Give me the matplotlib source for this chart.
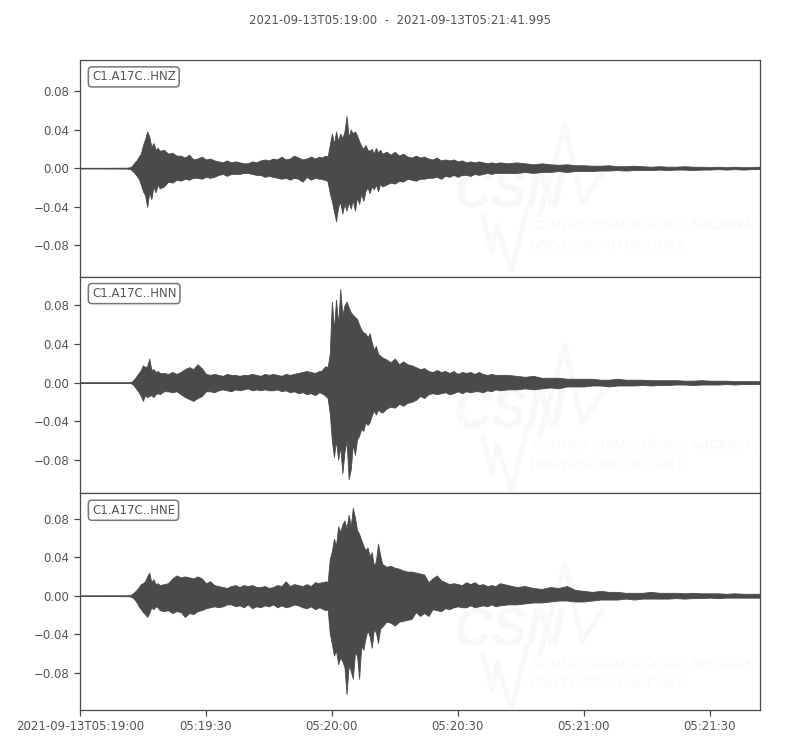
import matplotlib
matplotlib.use("Agg")
import matplotlib.pyplot as plt
import numpy as np
from matplotlib.transforms import IdentityTransform

# --- data ---
# seconds after 05:19:00, amplitudes are the envelope in 1e-3 units (lower = size below zero)
time_s = [0, 6, 11, 12,
          12.5, 13, 13.5, 14, 14.5, 15, 15.5, 16, 16.5, 17, 17.5, 18, 18.5, 19,
          20, 21, 22, 23, 24, 25, 26, 27, 28, 29, 30, 31, 32, 33, 34, 35, 36, 37, 38,
          39, 40, 41, 42, 43, 44, 45, 46, 47, 48, 49, 50, 51, 52, 53, 54, 55, 56, 57,
          57.5, 58, 58.5, 59, 59.5, 60, 60.5, 61, 61.5, 62, 62.5, 63, 63.5, 64, 64.5,
          65, 65.5, 66, 66.5, 67, 67.5, 68, 68.5, 69, 69.5, 70, 70.5, 71, 71.5, 72,
          73, 74, 75, 76, 77, 78, 79, 80, 81, 82, 83, 84, 85, 86, 87, 88, 89, 90, 91,
          92, 93, 94, 95, 96, 97, 98, 99, 100,
          102, 104, 106, 108, 110, 112, 114, 116, 118, 120, 122, 124, 126, 128, 130,
          132, 134, 136, 138, 140, 142, 144, 146, 148, 150, 152, 154, 156, 158, 160,
          161.995]

hnz_upper = [.4, .4, .5, 1,
             3, 6, 8, 12, 15, 24, 30, 38, 33, 22, 26, 19, 21, 18,
             19, 15, 16, 13, 13, 11, 14, 9, 10, 12, 9, 10, 8, 7, 6, 8, 6, 7, 6, 5, 5, 7, 6, 8, 9, 8, 10, 9, 12, 9, 10, 13, 11, 9, 10, 12, 10, 12,
             11, 12, 13, 12, 24, 36, 25, 38, 28, 36, 31, 38, 54, 32, 40, 36, 38, 34, 28, 23, 20, 24, 19, 18, 20, 15, 21, 16, 19, 15,
             17, 14, 17, 13, 15, 12, 11, 13, 11, 12, 10, 9, 11, 8, 9, 8, 9, 7, 8, 6, 7, 6, 7, 6, 5, 6, 5, 6,
             5, 6, 5, 4, 5, 4, 3.5, 4, 3, 3, 2.5, 2.5, 3, 2, 2, 2.5, 2, 1.5, 2, 1.5, 1.5, 2, 1.5, 1.5, 1, 1.5, 1, 1.5, 1, 1, 1.5]
hnz_lower = [.4, .4, .5, 1,
             3, 5, 8, 11, 17, 24, 28, 40, 25, 32, 19, 25, 17, 21,
             19, 14, 15, 12, 13, 11, 12, 10, 10, 11, 9, 10, 9, 7, 6, 8, 6, 6, 6, 5, 5, 6, 7, 7, 9, 8, 9, 10, 11, 10, 12, 10, 11, 14, 9, 12, 10, 11,
             11, 12, 12, 14, 26, 34, 45, 55, 40, 35, 47, 37, 44, 35, 42, 33, 44, 30, 37, 26, 34, 24, 20, 26, 19, 22, 17, 24, 16, 19,
             17, 15, 16, 13, 14, 11, 12, 13, 11, 11, 10, 10, 9, 11, 8, 9, 7, 9, 7, 7, 8, 6, 7, 6, 5, 6, 5, 5,
             5, 5, 4, 5, 4, 4, 3, 4, 3, 3, 3, 2.5, 2.5, 2, 2.5, 2, 2, 2, 1.5, 2, 1.5, 1.5, 2, 1.5, 1.5, 1, 1.5, 1, 1.5, 1, 1]

hnn_upper = [.4, .4, .4, .5,
             1.5, 4, 7, 10, 13, 18, 16, 17, 25, 13, 14, 11, 12, 10,
             10, 9, 11, 9, 11, 14, 16, 14, 19, 15, 9, 8, 9, 8, 7, 9, 8, 8, 7, 8, 8, 9, 8, 7, 9, 8, 9, 8, 7, 9, 8, 9, 10, 11, 12, 11, 10, 12,
             12, 15, 17, 16, 30, 84, 55, 86, 60, 97, 70, 80, 84, 78, 73, 70, 68, 66, 60, 55, 52, 51, 47, 51, 42, 34, 38, 30, 28, 26,
             24, 21, 25, 19, 22, 19, 18, 16, 14, 15, 12, 11, 13, 11, 12, 10, 12, 9, 11, 10, 11, 9, 11, 9, 8, 9, 8, 8,
             8, 7, 6, 7, 5, 5, 5, 4, 4, 4, 4, 3, 3, 4, 3, 3, 3, 2.5, 2.5, 2.5, 2.5, 2, 2, 2.5, 2, 2, 2, 1.5, 1.5, 1.5, 1.5]
hnn_lower = [.4, .4, .4, .5,
             1.5, 4, 7, 10, 14, 19, 13, 15, 14, 13, 15, 12, 11, 12,
             9, 9, 10, 9, 12, 15, 17, 19, 16, 14, 9, 9, 10, 8, 7, 8, 9, 7, 8, 7, 6, 8, 7, 8, 7, 8, 8, 7, 9, 8, 10, 9, 11, 10, 12, 11, 13, 10,
             11, 12, 14, 16, 32, 60, 77, 60, 80, 66, 94, 72, 60, 100, 90, 64, 75, 59, 55, 48, 50, 41, 44, 41, 34, 29, 33, 28, 30, 31,
             27, 25, 26, 22, 24, 21, 20, 18, 14, 16, 12, 11, 12, 11, 10, 12, 11, 9, 11, 9, 10, 9, 9, 10, 8, 9, 7, 8,
             7, 7, 6, 7, 6, 5, 6, 4, 4, 4, 3, 3, 4, 3, 3, 3, 2.5, 3, 2.5, 2.5, 2, 2, 2.5, 2, 2, 2, 1.5, 2, 1.5, 1.5, 1.5]

hne_upper = [.4, .4, .5, .8,
             2, 4, 6, 9, 12, 13, 15, 20, 24, 14, 17, 12, 13, 11,
             12, 13, 18, 21, 19, 20, 19, 18, 20, 18, 13, 15, 11, 10, 9, 8, 10, 11, 9, 11, 10, 11, 9, 9, 10, 8, 9, 11, 10, 15, 10, 12, 11, 10, 12, 10, 14, 13,
             14, 14, 15, 14, 38, 46, 59, 52, 72, 66, 74, 78, 70, 84, 72, 91, 81, 68, 64, 58, 52, 47, 50, 41, 45, 31, 36, 54, 42, 33,
             30, 31, 29, 28, 26, 25, 25, 24, 23, 22, 14, 18, 21, 16, 14, 12, 13, 12, 11, 14, 12, 14, 11, 12, 10, 11, 10, 13,
             11, 9, 10, 8, 7, 9, 8, 10, 6, 5, 4, 5, 4, 4, 3, 3, 3, 4, 3, 3, 3, 2.5, 3, 2.5, 2.5, 2.5, 2, 2.5, 2, 2, 2]
hne_lower = [.4, .4, .5, .8,
             2, 4, 7, 11, 14, 17, 19, 22, 18, 12, 14, 11, 12, 15,
             16, 15, 18, 16, 17, 22, 18, 19, 16, 15, 13, 12, 11, 12, 11, 9, 9, 11, 10, 12, 9, 13, 11, 12, 10, 11, 9, 12, 10, 12, 11, 9, 10, 12, 13, 11, 14, 12,
             13, 14, 15, 14, 39, 50, 62, 57, 71, 64, 68, 74, 102, 72, 78, 86, 59, 62, 86, 52, 56, 44, 36, 42, 54, 35, 38, 49, 34, 32,
             27, 28, 31, 27, 26, 25, 24, 17, 21, 18, 21, 14, 15, 16, 13, 14, 12, 11, 12, 12, 10, 12, 11, 10, 11, 9, 11, 10,
             9, 9, 8, 7, 7, 6, 5, 5, 6, 6, 5, 4, 4, 4, 3, 4, 3, 3, 3, 3, 2.5, 3, 2.5, 2.5, 2, 2.5, 2, 2, 2, 2, 2]

channels = ["C1.A17C..HNZ", "C1.A17C..HNN", "C1.A17C..HNE"]
uppers = [hnz_upper, hnn_upper, hne_upper]
lowers = [hnz_lower, hnn_lower, hne_lower]
y_limits = [(-0.1125, 0.1121), (-0.1148, 0.1098), (-0.1185, 0.1061)]
y_ticks = [-0.08, -0.04, 0.0, 0.04, 0.08]
x_ticks = [0, 30, 60, 90, 120, 150]
x_labels = ["2021-09-13T05:19:00", "05:19:30", "05:20:00", "05:20:30", "05:21:00", "05:21:30"]
title = "2021-09-13T05:19:00  -  2021-09-13T05:21:41.995"

DARK = "#4a4a4a"
TEXT = "#555555"
MARK = "#f8f8f8"
H = 750

# logo drawn in picture pixels
logo_peak_x = [520, 540, 565, 582, 602]
logo_peak_y = [300, 215, 125, 203, 173]
logo_w_x = [483, 492, 497, 505, 512, 527]
logo_w_y = [217, 252, 225, 250, 270, 208]
logo_offsets = [0, 220, 438]


def watermark(ax, dy):
    t = IdentityTransform()
    tr = ax.transAxes
    ax.plot(logo_peak_x[1:], [H - (v + dy) for v in logo_peak_y[1:]], color=MARK, lw=3.5,
            transform=t, zorder=0, clip_on=True)
    ax.plot(logo_w_x, [H - (v + dy) for v in logo_w_y], color=MARK, lw=3.5,
            transform=t, zorder=0, clip_on=True)
    fig = ax.figure
    for s, x, y, size, weight in [("CSN", 453, 208, 38, "bold"),
                                  ("CENTRO SISMOLÓGICO NACIONAL", 532, 229, 9.6, "normal"),
                                  ("UNIVERSIDAD DE CHILE", 530, 249, 9.6, "normal")]:
        ax.text(x, H - (y + dy), s, transform=t, color=MARK, fontsize=size, style="italic",
                weight=weight, family="Liberation Sans", ha="left", va="baseline", zorder=0, clip_on=True)


fig, axes = plt.subplots(3, 1, figsize=(8, 7.5), dpi=100, sharex=True)
fig.subplots_adjust(left=0.1, right=0.95, top=0.92, bottom=0.0533, hspace=0)

t = np.array(time_s)
for ax, name, up, low, lim, off in zip(axes, channels, uppers, lowers, y_limits, logo_offsets):
    watermark(ax, off)
    up = np.array(up) * 0.001
    low = -np.array(low) * 0.001
    ax.fill_between(t, low, up, color=DARK, linewidth=0.6, zorder=2)
    ax.set_ylim(lim)
    ax.set_xlim(0, 161.995)
    ax.set_yticks(y_ticks)
    ax.tick_params(axis="both", colors=DARK, labelcolor=TEXT, labelsize=8.5, length=4, width=0.9)
    for sp in ax.spines.values():
        sp.set_color(DARK)
        sp.set_linewidth(0.9)
    ax.text(0.0175, 0.922, name, transform=ax.transAxes, fontsize=8.5, color=TEXT, va="center",
            bbox=dict(boxstyle="round,pad=0.3", fc="white", ec="#777777", lw=1.1), zorder=5)

axes[0].tick_params(axis="x", length=0)
axes[1].tick_params(axis="x", length=0)
axes[2].set_xticks(x_ticks)
axes[2].set_xticklabels(x_labels)

fig.text(0.5, 1 - 21 / H, title, ha="center", va="center", fontsize=8.5, color=TEXT)
fig.savefig("out.png", dpi=100)
